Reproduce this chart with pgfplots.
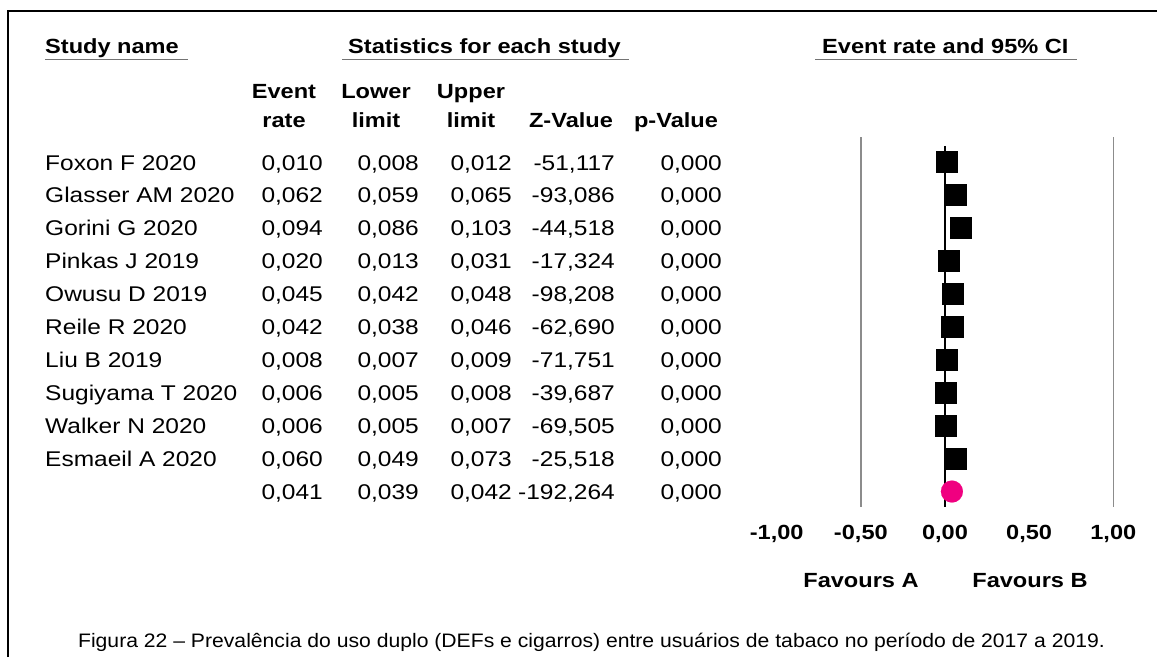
\documentclass[border=0pt]{standalone}
\usepackage{pgfplots}
\pgfplotsset{compat=1.18}
\usepackage{fontspec}
\setmainfont{Liberation Sans}[FakeStretch=1.15]
\newfontfamily\capfont{Liberation Sans}[FakeStretch=1.085]
\definecolor{pinkc}{RGB}{240,0,128}
\newcommand{\rf}{\fontsize{21.3}{24}\selectfont}
\newcommand{\bff}{\fontsize{20.5}{24}\selectfont\bfseries}
\begin{document}
\begin{tikzpicture}
\useasboundingbox (0pt,0pt) rectangle (1157pt,-657pt);
% frame
\draw[line width=2.2pt] (8pt,-657pt) -- (8pt,-11pt) -- (1157pt,-11pt);
% group headers
\node[anchor=base west, inner sep=0pt] at (45pt,-53pt) {\bff Study name};
\node[anchor=base west, inner sep=0pt] at (348pt,-53pt) {\bff Statistics for each study};
\node[anchor=base west, inner sep=0pt] at (822pt,-53pt) {\bff Event rate and 95\% CI};
\draw[black!55, line width=1.3pt] (45pt,-59.5pt) -- (188pt,-59.5pt);
\draw[black!55, line width=1.3pt] (342pt,-59.5pt) -- (629pt,-59.5pt);
\draw[black!55, line width=1.3pt] (815pt,-59.5pt) -- (1077pt,-59.5pt);
% column headers
\node[anchor=base, inner sep=0pt] at (284pt,-98pt) {\bff Event};
\node[anchor=base, inner sep=0pt] at (284pt,-127pt) {\bff rate};
\node[anchor=base, inner sep=0pt] at (376pt,-98pt) {\bff Lower};
\node[anchor=base, inner sep=0pt] at (376pt,-127pt) {\bff limit};
\node[anchor=base, inner sep=0pt] at (471pt,-98pt) {\bff Upper};
\node[anchor=base, inner sep=0pt] at (471pt,-127pt) {\bff limit};
\node[anchor=base, inner sep=0pt] at (571pt,-127pt) {\bff Z-Value};
\node[anchor=base, inner sep=0pt] at (676pt,-127pt) {\bff p-Value};
% table rows
\foreach \n/\a/\b/\c/\z/\p [count=\i from 0] in {
  {Foxon F 2020}/{0,010}/{0,008}/{0,012}/{-51,117}/{0,000},
  {Glasser AM 2020}/{0,062}/{0,059}/{0,065}/{-93,086}/{0,000},
  {Gorini G 2020}/{0,094}/{0,086}/{0,103}/{-44,518}/{0,000},
  {Pinkas J 2019}/{0,020}/{0,013}/{0,031}/{-17,324}/{0,000},
  {Owusu D 2019}/{0,045}/{0,042}/{0,048}/{-98,208}/{0,000},
  {Reile R 2020}/{0,042}/{0,038}/{0,046}/{-62,690}/{0,000},
  {Liu B 2019}/{0,008}/{0,007}/{0,009}/{-71,751}/{0,000},
  {Sugiyama T 2020}/{0,006}/{0,005}/{0,008}/{-39,687}/{0,000},
  {Walker N 2020}/{0,006}/{0,005}/{0,007}/{-69,505}/{0,000},
  {Esmaeil A 2020}/{0,060}/{0,049}/{0,073}/{-25,518}/{0,000},
  {}/{0,041}/{0,039}/{0,042}/{-192,264}/{0,000}} {
  \pgfmathsetmacro{\yy}{-170-32.95*\i}
  \node[anchor=base west, inner sep=0pt] at (45pt,\yy pt) {\rf \n};
  \node[anchor=base east, inner sep=0pt] at (323pt,\yy pt) {\rf \a};
  \node[anchor=base east, inner sep=0pt] at (419pt,\yy pt) {\rf \b};
  \node[anchor=base east, inner sep=0pt] at (512pt,\yy pt) {\rf \c};
  \node[anchor=base east, inner sep=0pt] at (615pt,\yy pt) {\rf \z};
  \node[anchor=base east, inner sep=0pt] at (722pt,\yy pt) {\rf \p};
}
% forest plot
\begin{axis}[
  at={(776.7pt,-507pt)}, anchor=south west,
  scale only axis, width=336.6pt, height=370pt,
  xmin=-1, xmax=1, ymin=-11.47, ymax=-0.24,
  hide y axis, axis x line*=bottom, x axis line style={draw=none},
  xtick={-1,-0.5,0,0.5,1},
  xticklabels={{-1,00},{-0,50},{0,00},{0,50},{1,00}},
  xtick style={draw=none},
  xticklabel style={font=\bff, anchor=base, yshift=-32pt},
  clip=false,
]
\addplot[black!45, line width=1.4pt] coordinates {(-0.5,-0.24) (-0.5,-11.47)};
\addplot[black!45, line width=1.4pt] coordinates {(1,-0.24) (1,-11.47)};
\addplot[black, line width=1.4pt] coordinates {(0,-0.51) (0,-11.47)};
\addplot[only marks, mark=square*, mark size=10.6pt, mark options={fill=black, draw=black, line width=0.3pt}] coordinates {
 (0.010,-1) (0.062,-2) (0.094,-3) (0.020,-4) (0.045,-5)
 (0.042,-6) (0.008,-7) (0.006,-8) (0.006,-9) (0.060,-10)};
\addplot[only marks, mark=*, mark size=11pt, mark options={fill=pinkc, draw=pinkc, line width=0.1pt}] coordinates {(0.041,-11)};
\end{axis}
\node[anchor=base, inner sep=0pt] at (861pt,-587pt) {\bff Favours A};
\node[anchor=base, inner sep=0pt] at (1030pt,-587pt) {\bff Favours B};
\node[anchor=base, inner sep=0pt] at (591.5pt,-647pt) {\capfont\fontsize{19.5}{22}\selectfont Figura 22 – Prevalência do uso duplo (DEFs e cigarros) entre usuários de tabaco no período de 2017 a 2019.};
\end{tikzpicture}
\end{document}
